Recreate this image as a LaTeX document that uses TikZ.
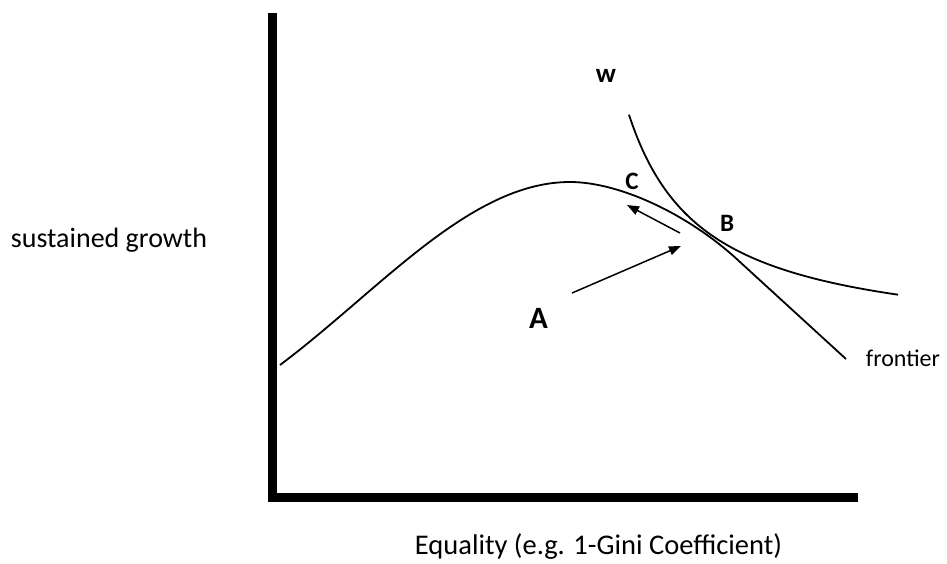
\documentclass[tikz,border=0pt]{standalone}
\usepackage{fontspec}
\setmainfont{Carlito}
\usepackage{tikz}
\usetikzlibrary{arrows.meta}
\tikzset{
  ax/.style={line width=9.5pt},
  crv/.style={line width=1.8pt},
  mv/.style={line width=1.5pt,-{Triangle[length=12pt,width=9pt]}},
  pt/.style={font=\fontsize{25}{27}\selectfont\bfseries},
  lab/.style={font=\fontsize{28}{30}\selectfont}
}
\begin{document}
\begin{tikzpicture}[x=1pt,y=-1pt]
\useasboundingbox (0,0) rectangle (947,563);
\draw[ax] (272.5,13) -- (272.5,497.5) -- (858,497.5);
\node[lab] (ylab) at (109,240) {sustained growth};
\node[lab,font=\fontsize{28.5}{30}\selectfont,anchor=base,inner sep=0pt] (xlab) at (598.5,554) {Equality (e.g. 1-Gini Coefficient)};
% production frontier
\draw[crv] (280,365) .. controls (380,290) and (470,182) .. (570,182)
  .. controls (620,182) and (690,215) .. (740,262) -- (846,359);
\node[font=\fontsize{24}{26}\selectfont] (fr) at (903,358) {frontier};
% welfare curve
\draw[crv] plot[domain=629:898,samples=80,smooth] (\x,{345-173.17/((\x-553.8)/100)});
\node[pt,font=\fontsize{27}{29}\selectfont\bfseries] (w) at (606,76) {w};
\node[pt,font=\fontsize{31}{33}\selectfont\bfseries] (A) at (538.5,318) {A};
\node[pt] (B) at (727,223) {B};
\node[pt] (C) at (632,181) {C};
\coordinate (a0) at (572,293);
\coordinate (a1) at (681,246);
\coordinate (c0) at (680,233);
\coordinate (c1) at (627,205);
\draw[mv] (a0) -- (a1);
\draw[mv] (c0) -- (c1);
\end{tikzpicture}
\end{document}
